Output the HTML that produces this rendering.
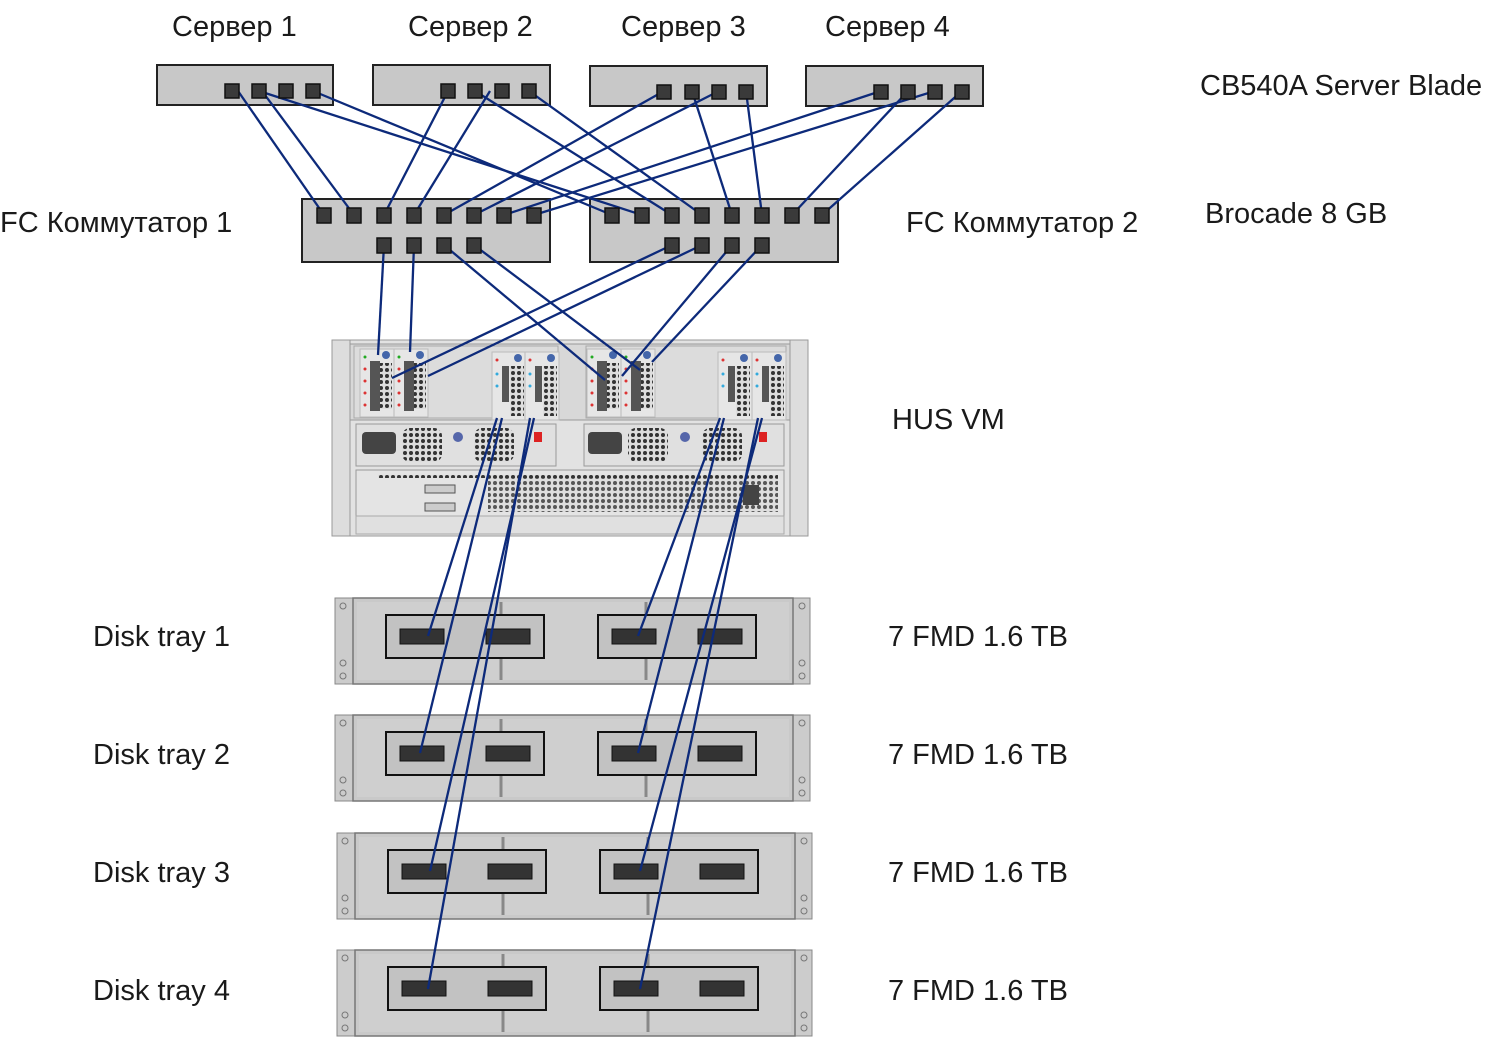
<!DOCTYPE html>
<html><head><meta charset="utf-8"><style>
html,body{margin:0;padding:0;background:#fff;}
svg{display:block}
text{font-family:"Liberation Sans",sans-serif;font-size:29px;fill:#1a1a1a}
</style></head><body>
<svg width="1485" height="1040" viewBox="0 0 1485 1040" xmlns="http://www.w3.org/2000/svg">
<defs>
<pattern id="hex" width="6" height="6" patternUnits="userSpaceOnUse"><rect width="6" height="6" fill="#ddd"/><circle cx="3" cy="3" r="2" fill="#333"/></pattern>
<g id="tray">
 <rect x="0" y="0" width="22" height="86" fill="#ccc" stroke="#888"/>
 <rect x="453" y="0" width="22" height="86" fill="#ccc" stroke="#888"/>
 <circle cx="8" cy="8" r="3" fill="none" stroke="#777"/><circle cx="8" cy="65" r="3" fill="none" stroke="#777"/><circle cx="8" cy="78" r="3" fill="none" stroke="#777"/>
 <circle cx="467" cy="8" r="3" fill="none" stroke="#777"/><circle cx="467" cy="65" r="3" fill="none" stroke="#777"/><circle cx="467" cy="78" r="3" fill="none" stroke="#777"/>
 <rect x="18" y="0" width="440" height="86" fill="#c9c9c9" stroke="#777" stroke-width="1.5"/>
 <rect x="22" y="4" width="432" height="78" fill="#cfcfcf"/>
 <line x1="166" y1="4" x2="166" y2="82" stroke="#888" stroke-width="3"/>
 <line x1="311" y1="4" x2="311" y2="82" stroke="#888" stroke-width="3"/>
 <rect x="51" y="17" width="158" height="43" fill="#c2c2c2" stroke="#111" stroke-width="2"/>
 <rect x="263" y="17" width="158" height="43" fill="#c2c2c2" stroke="#111" stroke-width="2"/>
 <rect x="65" y="31" width="44" height="15" fill="#333" stroke="#111"/>
 <rect x="151" y="31" width="44" height="15" fill="#333" stroke="#111"/>
 <rect x="277" y="31" width="44" height="15" fill="#333" stroke="#111"/>
 <rect x="363" y="31" width="44" height="15" fill="#333" stroke="#111"/>
</g>
<g id="fcmod">
 <rect x="0" y="0" width="34" height="68" fill="#e6e6e6" stroke="#bbb"/>
 <rect x="10" y="12" width="10" height="50" fill="#555"/>
 <rect x="20" y="14" width="12" height="46" fill="url(#hex)"/>
 <circle cx="5" cy="8" r="1.5" fill="#2a2"/><circle cx="5" cy="20" r="1.5" fill="#d33"/><circle cx="5" cy="32" r="1.5" fill="#d33"/><circle cx="5" cy="44" r="1.5" fill="#d33"/><circle cx="5" cy="56" r="1.5" fill="#d33"/>
 <circle cx="26" cy="6" r="4" fill="#46a" />
</g>
<g id="bemod">
 <rect x="0" y="0" width="34" height="68" fill="#e6e6e6" stroke="#bbb"/>
 <rect x="10" y="14" width="7" height="36" fill="#555"/>
 <rect x="18" y="14" width="14" height="50" fill="url(#hex)"/>
 <circle cx="5" cy="8" r="1.5" fill="#d33"/><circle cx="5" cy="22" r="1.5" fill="#3ad"/><circle cx="5" cy="34" r="1.5" fill="#3ad"/>
 <circle cx="26" cy="6" r="4" fill="#46a" />
</g>
</defs>

<text x="172" y="36">Сервер 1</text>
<text x="408" y="36">Сервер 2</text>
<text x="621" y="36">Сервер 3</text>
<text x="825" y="36">Сервер 4</text>
<text x="1200" y="95">CB540A Server Blade</text>
<text x="0" y="232">FC Коммутатор 1</text>
<text x="906" y="232">FC Коммутатор 2</text>
<text x="1205" y="223">Brocade 8 GB</text>
<text x="892" y="429">HUS VM</text>
<text x="93" y="646">Disk tray 1</text>
<text x="93" y="764">Disk tray 2</text>
<text x="93" y="882">Disk tray 3</text>
<text x="93" y="1000">Disk tray 4</text>
<text x="888" y="646">7 FMD 1.6 TB</text>
<text x="888" y="764">7 FMD 1.6 TB</text>
<text x="888" y="882">7 FMD 1.6 TB</text>
<text x="888" y="1000">7 FMD 1.6 TB</text>

<g fill="#c8c8c8" stroke="#222" stroke-width="2">
<rect x="157" y="65" width="176" height="40"/>
<rect x="373" y="65" width="177" height="40"/>
<rect x="590" y="66" width="177" height="40"/>
<rect x="806" y="66" width="177" height="40"/>
<rect x="302" y="199" width="248" height="63"/>
<rect x="590" y="199" width="248" height="63"/>
</g>

<g>
<rect x="332" y="340" width="476" height="196" fill="#e2e2e2" stroke="#999"/>
<rect x="332" y="340" width="18" height="196" fill="#ddd" stroke="#999"/>
<rect x="790" y="340" width="18" height="196" fill="#ddd" stroke="#999"/>
<rect x="350" y="344" width="440" height="76" fill="#d8d8d8" stroke="#999"/>
<rect x="354" y="346" width="204" height="72" fill="#dcdcdc" stroke="#aaa"/>
<rect x="586" y="346" width="200" height="72" fill="#dcdcdc" stroke="#aaa"/>
<use href="#fcmod" x="360" y="349"/><use href="#fcmod" x="394" y="349"/>
<use href="#bemod" x="492" y="352"/><use href="#bemod" x="525" y="352"/>
<use href="#fcmod" x="587" y="349"/><use href="#fcmod" x="621" y="349"/>
<use href="#bemod" x="718" y="352"/><use href="#bemod" x="752" y="352"/>
<rect x="356" y="424" width="200" height="42" fill="#e0e0e0" stroke="#999"/>
<rect x="584" y="424" width="200" height="42" fill="#e0e0e0" stroke="#999"/>
<rect x="362" y="432" width="34" height="22" rx="4" fill="#444"/>
<rect x="588" y="432" width="34" height="22" rx="4" fill="#444"/>
<rect x="402" y="428" width="40" height="34" rx="8" fill="url(#hex)"/>
<rect x="474" y="428" width="40" height="34" rx="8" fill="url(#hex)"/>
<rect x="628" y="428" width="40" height="34" rx="8" fill="url(#hex)"/>
<rect x="702" y="428" width="40" height="34" rx="8" fill="url(#hex)"/>
<circle cx="458" cy="437" r="5" fill="#56a"/><circle cx="685" cy="437" r="5" fill="#56a"/>
<rect x="534" y="432" width="8" height="10" fill="#d22"/><rect x="759" y="432" width="8" height="10" fill="#d22"/>
<rect x="356" y="470" width="428" height="46" fill="#e4e4e4" stroke="#999"/>
<rect x="378" y="475" width="400" height="3" fill="url(#hex)"/>
<rect x="488" y="478" width="290" height="34" fill="url(#hex)" opacity="0.8"/>
<rect x="425" y="485" width="30" height="8" fill="#ccc" stroke="#555"/><rect x="425" y="503" width="30" height="8" fill="#ccc" stroke="#555"/>
<rect x="743" y="485" width="16" height="20" fill="#444"/>
<rect x="356" y="516" width="428" height="18" fill="#e0e0e0" stroke="#aaa"/>
</g>

<use href="#tray" x="335" y="598"/>
<use href="#tray" x="335" y="715"/>
<use href="#tray" x="337" y="833"/>
<use href="#tray" x="337" y="950"/>

<g stroke="#0d2a7a" stroke-width="2.3" fill="none">
<line x1="238" y1="91" x2="324" y2="215"/>
<line x1="262" y1="91" x2="354" y2="215"/>
<line x1="259" y1="91" x2="642" y2="215"/>
<line x1="313" y1="91" x2="612" y2="215"/>
<line x1="448" y1="91" x2="384" y2="215"/>
<line x1="490" y1="91" x2="414" y2="215"/>
<line x1="475" y1="91" x2="672" y2="215"/>
<line x1="529" y1="91" x2="702" y2="215"/>
<line x1="664" y1="91" x2="444" y2="215"/>
<line x1="719" y1="91" x2="474" y2="215"/>
<line x1="692" y1="91" x2="732" y2="215"/>
<line x1="746" y1="91" x2="762" y2="215"/>
<line x1="881" y1="91" x2="504" y2="215"/>
<line x1="908" y1="91" x2="792" y2="215"/>
<line x1="935" y1="91" x2="534" y2="215"/>
<line x1="962" y1="91" x2="822" y2="215"/>
<line x1="384" y1="245" x2="378" y2="355"/>
<line x1="414" y1="245" x2="410" y2="352"/>
<line x1="444" y1="245" x2="605" y2="380"/>
<line x1="474" y1="245" x2="640" y2="370"/>
<line x1="672" y1="245" x2="392" y2="378"/>
<line x1="702" y1="245" x2="428" y2="376"/>
<line x1="732" y1="245" x2="622" y2="376"/>
<line x1="762" y1="245" x2="652" y2="362"/>
<line x1="497" y1="418" x2="428" y2="636"/>
<line x1="502" y1="418" x2="420" y2="753"/>
<line x1="534" y1="418" x2="430" y2="871"/>
<line x1="530" y1="418" x2="428" y2="989"/>
<line x1="720" y1="418" x2="638" y2="636"/>
<line x1="724" y1="418" x2="638" y2="753"/>
<line x1="762" y1="418" x2="640" y2="871"/>
<line x1="758" y1="418" x2="640" y2="989"/>
</g>

<g fill="#3a3a3a" stroke="#111" stroke-width="1.5">
<rect x="225" y="84" width="14" height="14"/><rect x="252" y="84" width="14" height="14"/><rect x="279" y="84" width="14" height="14"/><rect x="306" y="84" width="14" height="14"/>
<rect x="441" y="84" width="14" height="14"/><rect x="468" y="84" width="14" height="14"/><rect x="495" y="84" width="14" height="14"/><rect x="522" y="84" width="14" height="14"/>
<rect x="657" y="85" width="14" height="14"/><rect x="685" y="85" width="14" height="14"/><rect x="712" y="85" width="14" height="14"/><rect x="739" y="85" width="14" height="14"/>
<rect x="874" y="85" width="14" height="14"/><rect x="901" y="85" width="14" height="14"/><rect x="928" y="85" width="14" height="14"/><rect x="955" y="85" width="14" height="14"/>
<rect x="317" y="208" width="14" height="15"/><rect x="347" y="208" width="14" height="15"/><rect x="377" y="208" width="14" height="15"/><rect x="407" y="208" width="14" height="15"/><rect x="437" y="208" width="14" height="15"/><rect x="467" y="208" width="14" height="15"/><rect x="497" y="208" width="14" height="15"/><rect x="527" y="208" width="14" height="15"/>
<rect x="377" y="238" width="14" height="15"/><rect x="407" y="238" width="14" height="15"/><rect x="437" y="238" width="14" height="15"/><rect x="467" y="238" width="14" height="15"/>
<rect x="605" y="208" width="14" height="15"/><rect x="635" y="208" width="14" height="15"/><rect x="665" y="208" width="14" height="15"/><rect x="695" y="208" width="14" height="15"/><rect x="725" y="208" width="14" height="15"/><rect x="755" y="208" width="14" height="15"/><rect x="785" y="208" width="14" height="15"/><rect x="815" y="208" width="14" height="15"/>
<rect x="665" y="238" width="14" height="15"/><rect x="695" y="238" width="14" height="15"/><rect x="725" y="238" width="14" height="15"/><rect x="755" y="238" width="14" height="15"/>
</g>
</svg>
</body></html>
